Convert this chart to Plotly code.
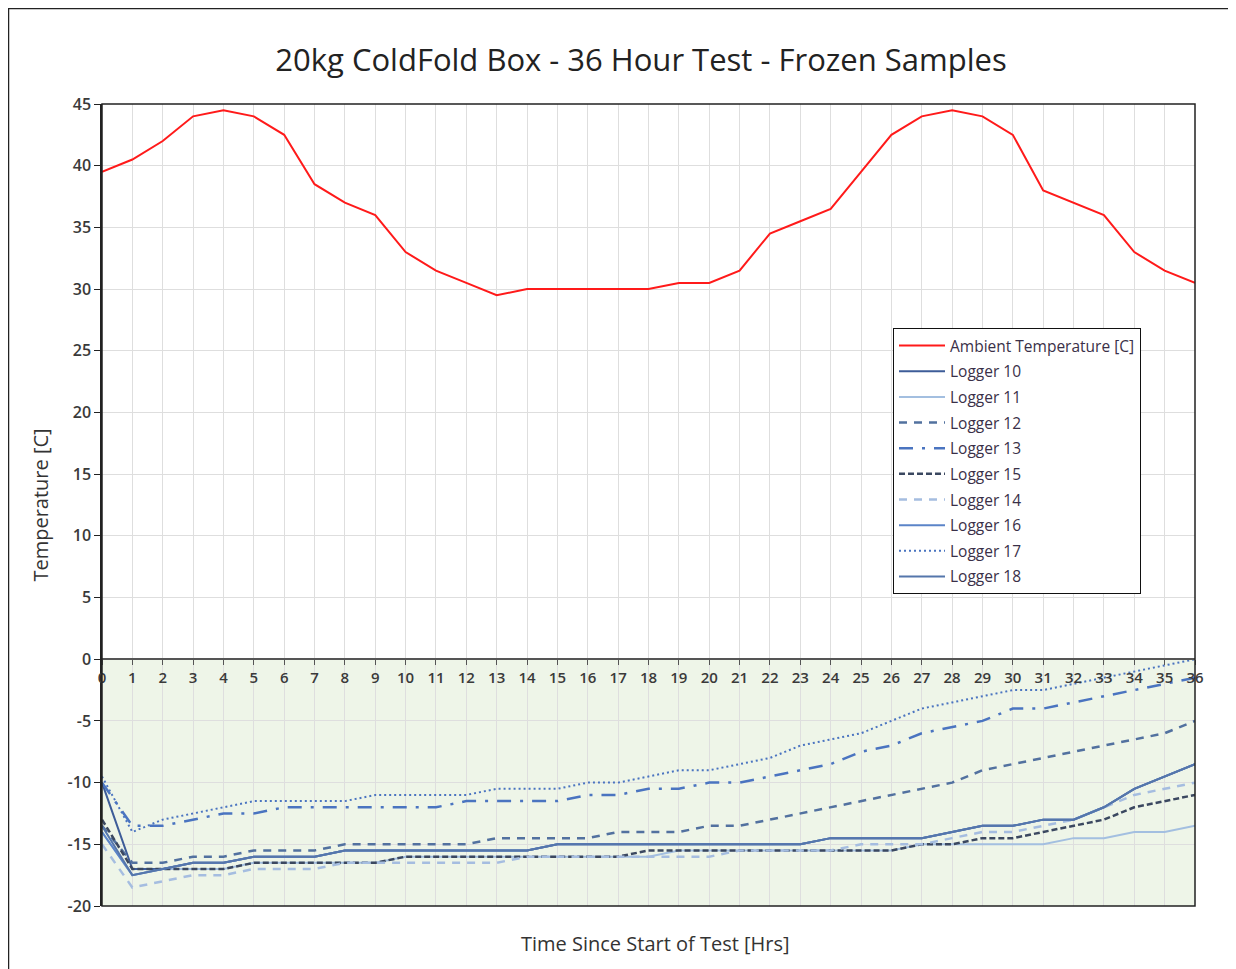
import plotly.graph_objects as go

hours = list(range(37))
tick_vals_y = [-20, -15, -10, -5, 0, 5, 10, 15, 20, 25, 30, 35, 40, 45]
tick_text_y = ["-20", "-15", "-10", "-5", "0", "5", "10", "15", "20", "25", "30", "35", "40", "45"]

ambient = [39.5, 40.5, 42, 44, 44.5, 44, 42.5, 38.5, 37, 36, 33, 31.5, 30.5, 29.5, 30, 30, 30, 30, 30,
           30.5, 30.5, 31.5, 34.5, 35.5, 36.5, 39.5, 42.5, 44, 44.5, 44, 42.5, 38, 37, 36, 33, 31.5, 30.5]
logger10 = [-10, -17, -17, -16.5, -16.5, -16, -16, -16, -15.5, -15.5, -15.5, -15.5, -15.5, -15.5, -15.5,
            -15, -15, -15, -15, -15, -15, -15, -15, -15, -14.5, -14.5, -14.5, -14.5, -14, -13.5, -13.5,
            -13, -13, -12, -10.5, -9.5, -8.5]
logger11 = [-14, -17.5, -17, -17, -17, -16.5, -16.5, -16.5, -16.5, -16.5, -16, -16, -16, -16, -16, -16,
            -16, -16, -16, -15.5, -15.5, -15.5, -15.5, -15.5, -15.5, -15.5, -15.5, -15, -15, -15, -15,
            -15, -14.5, -14.5, -14, -14, -13.5]
logger12 = [-13.5, -16.5, -16.5, -16, -16, -15.5, -15.5, -15.5, -15, -15, -15, -15, -15, -14.5, -14.5,
            -14.5, -14.5, -14, -14, -14, -13.5, -13.5, -13, -12.5, -12, -11.5, -11, -10.5, -10, -9, -8.5,
            -8, -7.5, -7, -6.5, -6, -5]
logger13 = [-10, -13.5, -13.5, -13, -12.5, -12.5, -12, -12, -12, -12, -12, -12, -11.5, -11.5, -11.5,
            -11.5, -11, -11, -10.5, -10.5, -10, -10, -9.5, -9, -8.5, -7.5, -7, -6, -5.5, -5, -4, -4,
            -3.5, -3, -2.5, -2, -1.5]
logger15 = [-13, -17, -17, -17, -17, -16.5, -16.5, -16.5, -16.5, -16.5, -16, -16, -16, -16, -16, -16,
            -16, -16, -15.5, -15.5, -15.5, -15.5, -15.5, -15.5, -15.5, -15.5, -15.5, -15, -15, -14.5,
            -14.5, -14, -13.5, -13, -12, -11.5, -11]
logger14 = [-15, -18.5, -18, -17.5, -17.5, -17, -17, -17, -16.5, -16.5, -16.5, -16.5, -16.5, -16.5, -16,
            -16, -16, -16, -16, -16, -16, -15.5, -15.5, -15.5, -15.5, -15, -15, -15, -14.5, -14, -14,
            -13.5, -13, -12, -11, -10.5, -10]
logger16 = [-14, -17.5, -17, -16.5, -16.5, -16, -16, -16, -15.5, -15.5, -15.5, -15.5, -15.5, -15.5, -15.5,
            -15, -15, -15, -15, -15, -15, -15, -15, -15, -14.5, -14.5, -14.5, -14.5, -14, -13.5, -13.5,
            -13, -13, -12, -10.5, -9.5, -8.5]
logger17 = [-9.5, -14, -13, -12.5, -12, -11.5, -11.5, -11.5, -11.5, -11, -11, -11, -11, -10.5, -10.5,
            -10.5, -10, -10, -9.5, -9, -9, -8.5, -8, -7, -6.5, -6, -5, -4, -3.5, -3, -2.5, -2.5, -2,
            -1.5, -1, -0.5, 0]
logger18 = [-13.5, -17.5, -17, -16.5, -16.5, -16, -16, -16, -15.5, -15.5, -15.5, -15.5, -15.5, -15.5, -15.5,
            -15, -15, -15, -15, -15, -15, -15, -15, -15, -14.5, -14.5, -14.5, -14.5, -14, -13.5, -13.5,
            -13, -13, -12, -10.5, -9.5, -8.5]

series = [
    ("Ambient Temperature [C]", ambient, "#ff1a1a", "solid", 2),
    ("Logger 10", logger10, "#3d5c98", "solid", 2),
    ("Logger 11", logger11, "#a3bfe0", "solid", 2),
    ("Logger 12", logger12, "#52719f", "8px,7px", 2.5),
    ("Logger 13", logger13, "#4a74c0", "14px,9px,3px,9px", 2.5),
    ("Logger 15", logger15, "#3b4860", "6px,3px", 2.5),
    ("Logger 14", logger14, "#a5bde0", "8px,7px", 2.5),
    ("Logger 16", logger16, "#5b84c8", "solid", 2),
    ("Logger 17", logger17, "#4a74c0", "2px,3px", 2),
    ("Logger 18", logger18, "#5576ab", "solid", 2),
]

FONT = "Open Sans"
fig = go.Figure()

fig.add_shape(type="rect", xref="x", yref="y", x0=0, x1=36, y0=-20, y1=0,
              fillcolor="#eef5e8", line_width=0, layer="below")

for i, (name, vals, color, dash, width) in enumerate(series):
    fig.add_trace(go.Scatter(x=hours, y=vals, mode="lines", name=name, legendgroup=f"g{i}",
                             line=dict(color=color, width=width, dash=dash)))

# plot frame
fig.add_shape(type="rect", xref="paper", yref="paper", x0=0, x1=1, y0=0, y1=1,
              line=dict(color="#222222", width=1.5), layer="above")
# outer border (figure edge)
fig.add_shape(type="rect", xref="paper", yref="paper",
              x0=-93.5 / 1093, x1=1 + 45 / 1093, y0=-70 / 802, y1=1 + 95.5 / 802,
              line=dict(color="#222222", width=1.5), layer="above")

fig.update_layout(
    width=1228, height=961,
    margin=dict(l=94, r=41, t=96, b=63),
    paper_bgcolor="white", plot_bgcolor="white",
    font=dict(family=FONT, color="#333333"),
    title=dict(text="20kg ColdFold Box - 36 Hour Test - Frozen Samples",
               x=(641 - 8) / 1228, xanchor="center", y=1 - 52 / 961, yanchor="middle",
               font=dict(family=FONT, size=31, color="#222222")),
    xaxis=dict(range=[0, 36], tickvals=hours, ticktext=[str(h) for h in hours],
               showgrid=True, gridcolor="#dedede", gridwidth=1,
               anchor="free", position=20 / 65, showline=True, linecolor="#555555", linewidth=1.5,
               ticks="outside", ticklen=5, tickcolor="#555555", zeroline=False,
               tickfont=dict(family=FONT, size=15, color="#3a3a3a", weight=600)),
    yaxis=dict(range=[-20, 45], tickvals=tick_vals_y, ticktext=tick_text_y,
               showgrid=True, gridcolor="#dedede", gridwidth=1, zeroline=False,
               showline=True, linecolor="#222222", linewidth=1.5,
               ticks="outside", ticklen=6, tickcolor="#222222",
               tickfont=dict(family=FONT, size=16, color="#3a3a3a", weight=600),
               title=dict(text="Temperature [C]", standoff=14,
                          font=dict(family=FONT, size=20, color="#333333"))),
    legend=dict(x=(893 - 102) / 1093, y=(906 - 328) / 802, xanchor="left", yanchor="top",
                bgcolor="white", bordercolor="#111111", borderwidth=1, itemwidth=46,
                font=dict(family=FONT, size=15.5, color="#3a3048"), tracegroupgap=2.5),
    showlegend=True,
)

fig.add_annotation(text="Time Since Start of Test [Hrs]", xref="paper", yref="paper",
                   x=(655 - 102) / 1093, y=-(943 - 906) / 802, xanchor="center", yanchor="middle",
                   showarrow=False, font=dict(family=FONT, size=20, color="#333333"))

fig.write_html("out.html")
